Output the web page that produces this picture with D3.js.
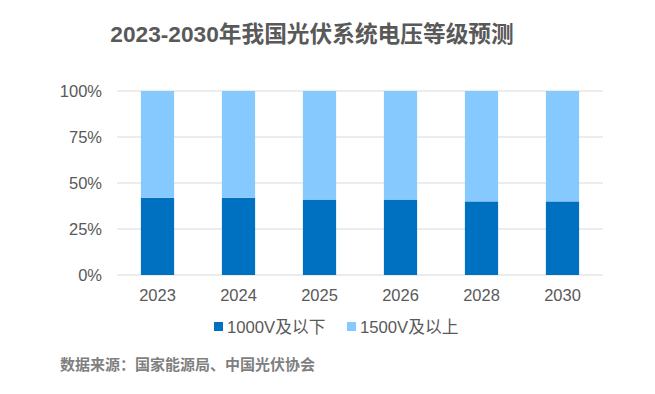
<!DOCTYPE html>
<html>
<head>
<meta charset="utf-8">
<script src="https://cdn.jsdelivr.net/npm/d3@7"></script>
<style>
  body { margin: 0; background: #fff; }
  text { font-family: "Liberation Sans", Arial, "Noto Sans CJK SC", sans-serif; }
</style>
</head>
<body>
<svg id="chart" width="655" height="394"></svg>
<script>
var years = ["2023", "2024", "2025", "2026", "2028", "2030"]
var low = [42, 42, 41, 41, 40, 40]      // 1000V及以下
var high = [58, 58, 59, 59, 60, 60]     // 1500V及以上
var seriesNames = ["1000V及以下", "1500V及以上"]
var seriesColors = ["#0070C0", "#85C9FF"]
var yTicks = [0, 25, 50, 75, 100]

var svg = d3.select("#chart")
var margin = {left: 117, right: 52, top: 91, bottom: 119}
var width = 655, height = 394

var x = d3.scaleBand().domain(years).range([margin.left, width - margin.right]).paddingInner(0.59).paddingOuter(0.295)
var y = d3.scaleLinear().domain([0, 100]).range([height - margin.bottom, margin.top])

svg.append("text")
  .attr("x", 312).attr("y", 42)
  .attr("text-anchor", "middle")
  .attr("font-size", "22.7px").attr("font-weight", "bold")
  .attr("fill", "#595959")
  .text("2023-2030年我国光伏系统电压等级预测")

// gridlines
svg.append("g")
  .selectAll("line").data(yTicks).enter().append("line")
  .attr("x1", margin.left).attr("x2", width - margin.right)
  .attr("y1", d => y(d)).attr("y2", d => y(d))
  .attr("stroke", "#d9d9d9").attr("stroke-width", 1)

var yAxis = svg.append("g")
  .attr("transform", `translate(${margin.left},0)`)
  .call(d3.axisLeft(y).tickValues(yTicks).tickFormat(d => d + "%").tickSize(0).tickPadding(15))
yAxis.select(".domain").remove()
yAxis.selectAll("text").attr("font-size", "16.5px").attr("fill", "#595959")
  .style("font-family", "'Liberation Sans', Arial, sans-serif")

var stacked = years.map((yr, i) => ({year: yr, v: [low[i], high[i]]}))

stacked.forEach(function(d) {
  var base = 0
  d.v.forEach(function(val, j) {
    svg.append("rect")
      .attr("x", x(d.year))
      .attr("width", x.bandwidth())
      .attr("y", y(base + val))
      .attr("height", y(base) - y(base + val))
      .attr("fill", seriesColors[j])
    base += val
  })
})

var xAxis = svg.append("g")
  .attr("transform", `translate(0,${y(0)})`)
  .call(d3.axisBottom(x).tickSize(0).tickPadding(14))
xAxis.select(".domain").remove()
xAxis.selectAll("text").attr("font-size", "16.5px").attr("fill", "#595959")
  .style("font-family", "'Liberation Sans', Arial, sans-serif")

// legend
var legX = [214, 347]
seriesNames.forEach(function(name, i) {
  svg.append("rect")
    .attr("x", legX[i]).attr("y", 322)
    .attr("width", 9).attr("height", 9)
    .attr("fill", seriesColors[i])
  svg.append("text")
    .attr("x", legX[i] + 13).attr("y", 333)
    .attr("font-size", "16.7px").attr("fill", "#595959")
    .text(name)
})

svg.append("text")
  .attr("x", 60).attr("y", 370)
  .attr("font-size", "15px").attr("font-weight", "bold")
  .attr("fill", "#7f7f7f")
  .text("数据来源：国家能源局、中国光伏协会")
</script>
</body>
</html>
